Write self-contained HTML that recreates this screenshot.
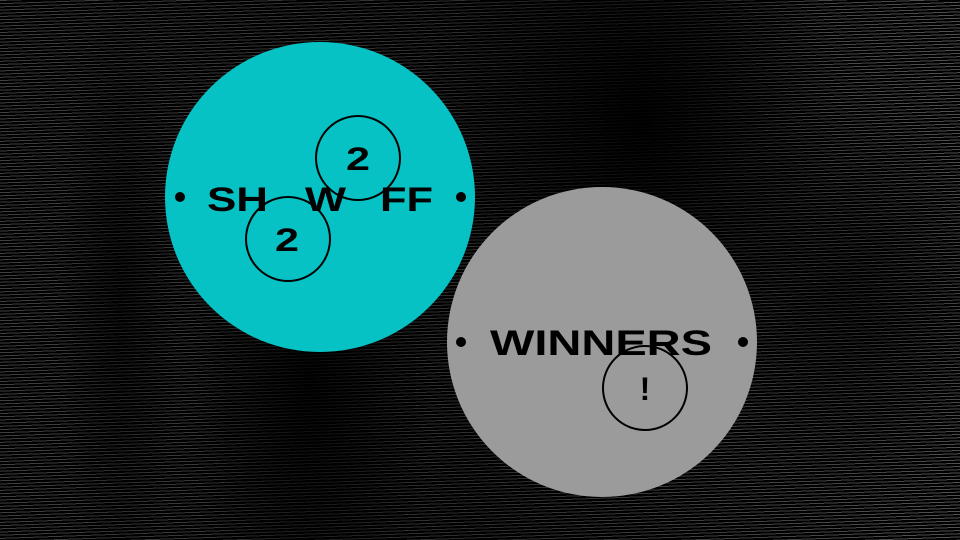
<!DOCTYPE html>
<html><head><style>
html,body{margin:0;padding:0}
body{width:960px;height:540px;overflow:hidden;position:relative;background:#000;font-family:"Liberation Sans",sans-serif}
.bg{position:absolute;inset:0;background:repeating-linear-gradient(178deg,#5a5a5a 0 1px,#000 1px 3.2px)}
.shade{position:absolute;inset:0;background:
radial-gradient(ellipse 120px 300px at 310px 380px,rgba(0,0,0,.85),transparent),
radial-gradient(ellipse 200px 260px at 640px 120px,rgba(0,0,0,.95),transparent),
radial-gradient(ellipse 60px 300px at 120px 300px,rgba(0,0,0,.6),transparent),
radial-gradient(ellipse 160px 200px at 850px 300px,rgba(0,0,0,.5),transparent),
linear-gradient(90deg,rgba(0,0,0,.3),rgba(0,0,0,.5) 50%,rgba(0,0,0,.1))}
svg{position:absolute;left:0;top:0}
text{font-family:"Liberation Sans",sans-serif;font-weight:bold}
</style></head><body>
<div class="bg"></div><div class="shade"></div>
<svg width="960" height="540">
<circle cx="320" cy="197" r="155" fill="#06c2c4"/>
<circle cx="602" cy="342" r="155" fill="#9b9b9b"/>
<circle cx="180" cy="197" r="5" fill="#000"/>
<circle cx="461" cy="197" r="5" fill="#000"/>
<text x="207" y="211" font-size="34" textLength="61" lengthAdjust="spacingAndGlyphs">SH</text>
<text x="305" y="211" font-size="34" textLength="41" lengthAdjust="spacingAndGlyphs">W</text>
<text x="380" y="211" font-size="34" textLength="53" lengthAdjust="spacingAndGlyphs">FF</text>
<circle cx="358" cy="158" r="42" fill="none" stroke="#000" stroke-width="2"/>
<circle cx="288" cy="239" r="42" fill="none" stroke="#000" stroke-width="2"/>
<text x="346" y="170" font-size="32" textLength="24" lengthAdjust="spacingAndGlyphs">2</text>
<text x="275" y="251" font-size="32" textLength="24" lengthAdjust="spacingAndGlyphs">2</text>
<circle cx="461" cy="342" r="5" fill="#000"/>
<circle cx="743" cy="342" r="5" fill="#000"/>
<text x="490" y="355" font-size="35" textLength="222" lengthAdjust="spacingAndGlyphs">WINNERS</text>
<circle cx="645" cy="388" r="42" fill="none" stroke="#000" stroke-width="2"/>
<text x="645" y="400" font-size="32" text-anchor="middle">!</text>
</svg>
</body></html>
